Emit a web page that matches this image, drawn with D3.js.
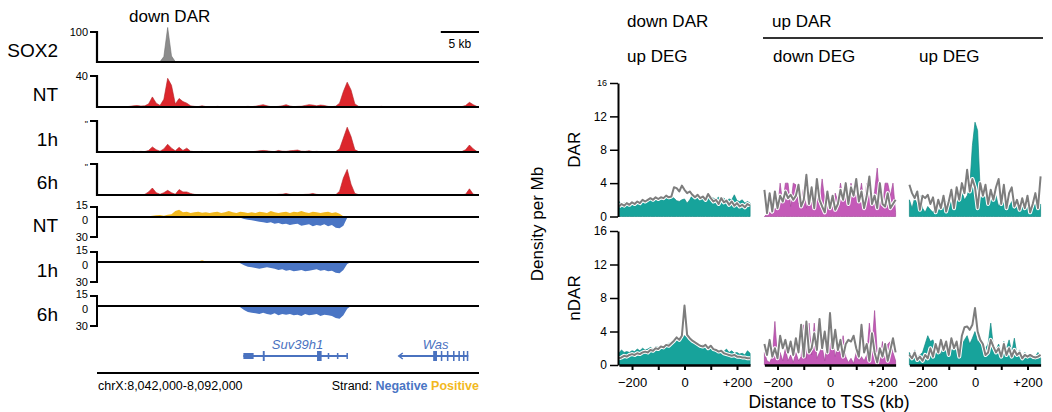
<!DOCTYPE html>
<html>
<head>
<meta charset="utf-8">
<script src="https://cdn.jsdelivr.net/npm/d3@7"></script>
<style>
  body { margin: 0; background: #fff; }
  svg { display: block; font-family: 'Liberation Sans', Arial, sans-serif; }
</style>
</head>
<body>
<div id="view"></div>
<script>
'use strict';

// ---- genome browser tracks: 100 bins of 0.5 kb over chrX:8,042,000-8,092,000
const sox2Signal = [
  0,0,0,0,0,0,0.5,0,0.5,0,
  0.5,1,0.5,0.5,1,0.5,1,18,115,20,
  1,1,1.5,1,0.5,1,0.5,0.5,0.5,0,
  0.5,0,0,0.5,0,0,0.5,0,0,0,
  0.5,0,0,0,0.5,0,0,0.5,0,0,
  0.5,0,0,0,0.5,0,0.5,0,0,0.5,
  0,0.5,0,1,1.5,2,1,0.5,0,0,
  0.5,0,0,0,0.5,0,0,0,0,0.5,
  0,0,0,0,0.5,0,0,0,0,0,
  0.5,0,0,0,0.5,0,0.5,0,0,0];
const ntSignal = [
  0.3,0.5,0.3,0.5,0.3,0.5,0.5,0.3,0.8,1.5,
  2,1.2,1.5,4,13,5,2,10,37,28,
  4,11,7,5,1.5,0.8,0.5,1.5,0.5,0.5,
  0.3,0.8,0.5,0.3,0.5,0.3,0.5,0.3,0.5,0.8,
  0.5,1,2,3,1.5,0.5,0.5,0.8,1.5,3,
  1.2,0.5,0.8,1,2,3,2.5,1.5,2.5,2,
  0.8,0.5,1,5,20,32,22,4,0.8,0.5,
  0.3,0.5,0.3,0.5,0.8,0.3,0.5,0.3,0.3,0.5,
  0.3,0.5,0.3,0.3,0.5,0.3,0.3,0.5,0.3,0.3,
  0.5,0.3,0.3,0.5,0.3,0.5,2,6,3,0.5];
const h1Signal = [
  0.3,0.3,0.5,0.3,0.3,0.5,0.3,0.3,0.5,0.8,
  0.5,0.8,0.5,2,6.5,3,1,4,10,5,
  1.5,6,2,5,1,0.5,0.5,0.8,0.3,0.5,
  0.3,0.5,0.3,0.5,0.3,0.5,0.3,0.5,0.3,0.5,
  0.5,0.8,1.5,2,1.5,0.8,0.5,2,1,0.8,
  1.5,2,2.5,1,0.8,1.5,0.5,0.8,0.5,0.3,
  0.5,0.3,0.5,4,18,32,20,3,0.5,0.3,
  0.3,0.5,0.3,0.3,0.5,0.3,0.3,0.5,0.3,0.3,
  0.5,0.3,0.3,0.5,0.3,0.3,0.5,0.3,0.3,0.5,
  0.3,0.3,0.5,0.3,0.3,0.5,3,9,4,0.5];
const h6Signal = [
  0.3,0.3,0.3,0.5,0.3,0.3,0.5,0.3,0.3,0.5,
  0.5,0.3,0.8,4,9,3,1,3,6,3,
  1,7,4,4,2,0.8,0.5,0.3,0.5,0.3,
  0.5,0.3,0.3,0.5,0.3,0.3,0.5,0.3,0.3,0.5,
  0.3,0.5,0.3,0.5,0.3,0.5,0.5,0.8,1,2,
  0.8,0.5,0.3,0.5,0.8,1,2,0.8,0.5,0.3,
  0.3,0.5,0.3,5,22,33,14,2,0.5,0.3,
  0.3,0.3,0.5,0.3,0.3,0.5,0.3,0.3,0.3,0.5,
  0.3,0.3,0.5,0.3,0.3,0.3,0.5,0.3,0.3,0.3,
  0.3,0.5,0.3,0.3,0.3,0.3,1,8,1,0.3];

// strand-specific RNA, positive strand up, negative strand (depth) down
const ntPlus = [
  0,0,0,0,0,0,0,0,0,0,
  0,0,0,1,2,2.5,3,2,3.5,4,
  9,11,7,8,6,7,8,6.5,7,6,
  7,8,6,7,9,7,6,8,7,6,
  7,6,8,7,6,9,7,6,7,8,
  6,8,7,9,7,6,8,7,6,7,
  8,6,7,5,1,0,0,0,0,0,
  0,0,0,0,0,0,0,0,0,0,
  0,0,0,0,0,0,0,0,0,0,
  0,0,0,0,0,0,0,0,0,0];
const ntMinus = [
  0,0,0,0,0,0,0,0,0,0,
  0,0,0,0,1.5,0,0,0,0,0,
  0,0,0,0,0,0,0,0,0,0,
  0,0,0,0,0,0,0,1,3,4,
  5,6,7,8,9,8,10,9,11,10,
  12,11,10,13,12,11,14,12,13,11,
  14,12,16,17,13,1,0,0,0,0,
  0,0,0,0,0,0,0,0,0,0,
  0,0,0,0,0,0,0,0,0,0,
  0,0,0,0,0,0,0,0,0,0];
const h1Plus = [
  0,0,0,0,0,0,0,0,0,0,
  0,0.5,0.5,0.5,0.8,0.5,0.5,0.8,0.5,0.5,
  0.8,0.5,0.5,0.8,0.5,0.5,0.8,2.5,0.8,0.5,
  0.5,0.8,0.5,0.5,0.8,0.5,0.5,0.8,0.5,0.5,
  0.8,0.5,0.5,0.8,0.5,0.5,1,0.5,0.5,0.8,
  0.5,0.5,1,0.5,0.5,0.8,0.5,0.5,0.8,0.5,
  0.5,0.8,0.5,0.5,0.5,0,0,0,0,0,
  0,0,0,0,0,0,0,0,0,0,
  0,0,0,0,0,0,0,0,0,0,
  0,0,0,0,0,0,0,0,0,0];
const h1Minus = [
  0,0,0,0,0,0,0,0,0,0,
  0,0,0,0,0,0,0,0,0,0,
  0,0,0,0,0,0,0,0,0,0,
  0,0,0,0,0,0,0,2,5,7,
  8,9,10,9,8,9,10,12,11,13,
  12,14,13,12,14,13,12,11,13,12,
  14,13,16,17,12,3,0,0,0,0,
  0,0,0,0,0,0,0,0,0,0,
  0,0,0,0,0,0,0,0,0,0,
  0,0,0,0,0,0,0,0,0,0];
const h6Plus = [
  0,0,0,0,0,0,0,0,0,0,
  0,0,0,0,0,0,0,0,0,0,
  0,0,0,0,0,0,0,0,0,0,
  0,0,0,0,0,0,0,0,0,0,
  0.5,0.8,0.5,0.5,0.8,0.5,1,0.5,0.8,0.5,
  0.5,0.8,0.5,1,0.5,0.5,0.8,0.5,0.5,0.8,
  0.5,0.5,0.5,0.5,0,0,0,0,0,0,
  0,0,0,0,0,0,0,0,0,0,
  0,0,0,0,0,0,0,0,0,0,
  0,0,0,0,0,0,0,0,0,0];
const h6Minus = [
  0,0,0,0,0,0,0,0,0,0,
  0,0,0,0,0,0,0,0,0,0,
  0,0,0,0,0,0,0,0,0,0,
  0,0,0,0,0,0,0,2,6,9,
  10,11,12,10,12,13,11,14,12,13,
  12,14,13,15,12,14,13,12,15,13,
  14,15,18,19,14,4,0,0,0,0,
  0,0,0,0,0,0,0,0,0,0,
  0,0,0,0,0,0,0,0,0,0,
  0,0,0,0,0,0,0,0,0,0];

// gene models, kb from region start: [start, end, kind]
const suv39h1Span = [19.16, 32.8];
const suv39h1Exons = [[19.16, 20.5, 'utr'], [21.7, 21.95, 'cds'], [28.8, 29.4, 'cds'],
  [30.2, 30.4, 'utr'], [31.4, 31.6, 'utr'], [32.65, 32.8, 'utr']];
const wasSpan = [39.5, 48.6];
const wasExons = [[44.0, 44.5, 'cds'], [45.0, 45.2, 'cds'], [45.8, 46.0, 'cds'],
  [46.6, 46.8, 'cds'], [47.3, 47.5, 'cds'], [47.9, 48.1, 'cds'], [48.4, 48.6, 'cds']];

// ---- TSS density profiles: 51 bins, -250..+250 kb
const tssDistance = d3.range(-250, 251, 10);
const xTicks = [-200, -100, 0, 100, 200];
const yTicks = [0, 4, 8, 12, 16];

const darDownUp = [1.8,1.5,1.6,1.7,1.6,1.8,1.7,1.9,1.8,2.0, 1.9,2.0,2.1,2.0,2.1,2.2,2.1,2.2,2.3,2.2,
  2.4,2.2,1.9,1.8,2.0,2.1,1.6,2.0,2.6,2.5, 2.4,2.3,2.5,2.3,2.2,2.4,2.2,2.1,2.3,2.0,
  2.2,1.9,2.1,2.0,2.6,1.9,1.8,2.0,1.6,1.8, 1.6];
const darDownUpCtrl = [1.2,1.5,1.3,1.6,1.4,1.7,1.5,1.8,1.6,2.0, 1.8,2.0,2.2,2.0,2.3,2.1,2.3,2.2,2.5,2.3,
  2.4,3.5,3.4,3.0,3.7,3.2,2.8,3.0,2.6,2.3, 2.6,2.2,2.4,2.0,2.7,2.2,1.8,2.0,1.5,2.2,
  1.7,1.9,1.4,1.8,1.3,1.6,1.2,1.4,1.1,1.5, 1.3];
const ndarDownUp = [1.4,1.8,1.5,1.6,1.5,1.7,1.6,1.9,1.7,2.0, 1.8,1.9,2.1,1.9,2.2,2.1,2.3,2.2,2.4,2.6,
  2.7,2.9,3.1,3.3,3.4,3.5,3.3,3.0,2.9,2.6, 2.4,2.3,2.4,2.1,2.2,1.9,2.0,1.9,1.7,1.8,
  1.6,1.9,1.5,1.7,1.4,1.5,1.3,1.4,1.2,1.7, 1.4];
const ndarDownUpCtrl = [0.8,0.9,1.1,1.0,1.2,1.3,1.2,1.4,1.3,1.5, 1.6,1.5,1.8,1.7,2.0,1.9,2.2,2.1,2.4,2.3,
  2.6,2.9,3.3,3.0,3.5,7.1,3.6,3.2,2.9,2.7, 2.5,2.3,2.2,2.4,2.0,2.3,1.9,1.8,1.6,1.7,
  1.4,1.3,1.2,1.1,1.2,1.0,1.0,0.9,0.9,0.8, 0.8];

const darUpDown = [0,0.3,0.5,0.2,1.0,0.8,4.0,1.5,4.0,4.0, 1.2,4.0,3.8,1.5,2.0,3.5,1.0,2.5,2.0,1.2,
  2.5,1.5,4.5,2.0,1.5,2.2,1.0,2.8,1.8,4.0, 2.0,3.5,1.2,4.0,2.5,3.5,2.0,4.0,1.5,4.0,
  2.5,1.0,3.0,5.8,2.0,1.2,4.0,4.0,2.5,4.0, 0.5];
const darUpDownCtrl = [3.2,0.4,2.8,0.6,3.0,1.0,2.5,1.8,3.0,2.2, 2.6,2.0,2.5,3.8,1.2,2.0,5.0,1.5,3.5,1.0,
  4.5,2.0,1.2,0.5,3.0,1.0,2.5,0.8,1.5,3.2, 2.0,4.0,1.5,3.5,2.5,4.5,1.8,3.0,1.0,2.5,
  4.8,1.5,2.5,1.0,4.0,1.5,1.2,2.8,1.0,1.5, 2.0];
const ndarUpDown = [1.5,0.5,0.3,1.0,5.2,0.8,1.5,0.5,2.0,0.5, 1.2,0.3,1.5,0.5,1.0,4.8,0.8,5.0,1.2,5.0,
  0.8,1.5,2.2,0.5,3.0,2.5,3.0,1.0,2.8,1.2, 3.5,1.0,0.3,0.8,0.2,1.5,0.5,1.0,0.5,1.2,
  5.0,2.0,6.5,1.5,0.5,2.8,1.0,2.5,2.8,1.5, 0.5];
const ndarUpDownCtrl = [2.5,1.2,3.0,1.0,2.0,0.8,3.5,2.0,3.0,1.5, 2.8,1.2,3.2,1.5,4.8,1.0,5.2,1.5,2.0,3.8,
  1.8,5.5,2.0,4.0,1.5,6.2,2.0,4.2,1.8,3.0, 1.0,2.5,3.0,2.8,3.5,2.0,1.0,4.8,1.5,2.5,
  0.5,3.8,1.5,0.3,2.0,1.0,2.5,0.5,1.8,3.2, 1.5];

const darUpUp = [2.0,1.0,2.2,1.5,2.5,1.0,0.5,1.2,0.8,0.5, 1.0,0.6,1.5,1.0,1.8,1.2,2.0,1.5,2.5,2.2,
  3.0,2.0,2.5,3.5,8.5,11.3,10.3,3.0,2.2,2.5, 1.5,2.8,2.0,2.5,1.2,2.2,1.5,2.0,1.2,1.8,
  0.8,1.5,1.0,2.0,0.8,1.5,0.6,1.2,1.5,1.0, 1.5];
const darUpUpCtrl = [3.8,2.8,2.2,3.0,0.8,2.5,2.2,2.6,1.5,2.3, 0.5,2.0,1.0,2.5,0.6,1.8,3.2,1.0,3.5,2.0,
  4.0,2.8,5.6,3.0,4.5,3.5,1.0,4.0,2.5,3.8, 1.5,3.2,2.0,3.5,4.5,1.5,3.8,1.0,2.8,3.5,
  1.2,2.0,0.8,2.2,1.0,2.5,0.5,1.5,2.8,1.0, 4.8];
const ndarUpUp = [1.5,0.8,1.8,1.0,1.2,1.5,2.5,3.5,2.8,3.0, 1.5,2.0,1.2,2.5,1.5,2.2,1.8,2.0,2.8,1.5,
  2.5,3.0,3.5,2.5,3.2,4.0,2.8,3.0,1.8,2.0, 2.5,5.0,2.2,1.8,2.5,1.5,2.8,2.0,3.0,1.5,
  3.2,1.2,1.8,1.0,1.5,0.8,1.2,0.6,1.0,1.5, 0.8];
const ndarUpUpCtrl = [1.2,0.8,1.5,0.6,1.0,0.5,1.2,0.8,2.0,1.0, 2.5,1.5,3.0,1.8,2.8,1.2,3.2,2.0,2.8,1.0,
  3.5,4.5,4.6,4.2,4.8,6.8,4.0,3.0,2.5,1.2, 1.5,3.0,2.2,1.5,2.0,1.0,2.5,1.2,2.0,1.0,
  1.8,1.2,1.5,0.8,1.2,1.0,1.2,1.0,0.9,1.0, 1.2];

const presentation = {
  red: '#dc262c', grey: '#8c8c8c', yellow: '#f2b91e', blue: '#4a75c4',
  gene: '#4a72bf', teal: '#17a39b', magenta: '#c45ab8', ctrl: '#7d7d7d'
};

const svg = d3.select('#view').append('svg')
  .attr('width', 1052)
  .attr('height', 412);

// ================= left: browser view =================
const kb = d3.scaleLinear().domain([0, 50]).range([97, 479]);
const binKb = i => i * 0.5 + 0.25;
const gLeft = svg.append('g');

gLeft.append('text').attr('x', 129).attr('y', 22)
  .attr('font-size', 17).text('down DAR');

// scale bar
gLeft.append('line').attr('x1', kb(45)).attr('x2', kb(50)).attr('y1', 32).attr('y2', 32)
  .attr('stroke', '#000').attr('stroke-width', 2);
gLeft.append('text').attr('x', kb(47.5)).attr('y', 48).attr('text-anchor', 'middle')
  .attr('font-size', 12).text('5 kb');

const signalTracks = [
  { label: 'SOX2', values: sox2Signal, max: 100, tick: '100', top: 32, base: 62, fill: presentation.grey },
  { label: 'NT', values: ntSignal, max: 40, tick: '40', top: 76, base: 107, fill: presentation.red },
  { label: '1h', values: h1Signal, max: 40, tick: '"', top: 121, base: 152, fill: presentation.red },
  { label: '6h', values: h6Signal, max: 40, tick: '"', top: 164, base: 195, fill: presentation.red }
];

signalTracks.forEach(t => {
  const y = d3.scaleLinear().domain([0, t.max]).range([t.base, t.top]);
  const area = d3.area().x((d, i) => kb(binKb(i))).y0(t.base).y1(d => y(d));
  gLeft.append('path').attr('d', area(t.values))
    .attr('fill', t.fill).attr('stroke', d3.color(t.fill).darker(0.6)).attr('stroke-width', 0.6);
  gLeft.append('path')
    .attr('d', `M${kb(0) - 7},${t.top}H${kb(0)}V${t.base}H${kb(50)}`)
    .attr('fill', 'none').attr('stroke', '#000').attr('stroke-width', 2.2);
  gLeft.append('text').attr('x', 88).attr('y', t.top).attr('dy', t.tick === '"' ? '0.7em' : '0.35em')
    .attr('text-anchor', 'end').attr('font-size', t.tick === '"' ? 9 : 11).text(t.tick);
  gLeft.append('text').attr('x', 58).attr('y', (t.top + t.base) / 2 + 3).attr('dy', '0.35em')
    .attr('text-anchor', 'end').attr('font-size', 19).text(t.label);
});

const strandTracks = [
  { label: 'NT', plus: ntPlus, minus: ntMinus, zero: 217 },
  { label: '1h', plus: h1Plus, minus: h1Minus, zero: 262 },
  { label: '6h', plus: h6Plus, minus: h6Minus, zero: 306 }
];

strandTracks.forEach(t => {
  const y = d3.scaleLinear().domain([-30, 15]).range([t.zero + 20, t.zero - 10]);
  const up = d3.area().x((d, i) => kb(binKb(i))).y0(y(0)).y1(d => y(d));
  const down = d3.area().x((d, i) => kb(binKb(i))).y0(y(0)).y1(d => y(-d));
  gLeft.append('path').attr('d', up(t.plus)).attr('fill', presentation.yellow);
  gLeft.append('path').attr('d', down(t.minus)).attr('fill', presentation.blue);
  gLeft.append('path')
    .attr('d', `M${kb(0) - 7},${y(15)}H${kb(0)}V${y(-30)}H${kb(0) - 7}`)
    .attr('fill', 'none').attr('stroke', '#000').attr('stroke-width', 2);
  gLeft.append('line').attr('x1', kb(0)).attr('x2', kb(50)).attr('y1', y(0)).attr('y2', y(0))
    .attr('stroke', '#000').attr('stroke-width', 2.2);
  // "15" and "0" sit close together, as in the source figure
  [[15, '15', -1.5], [0, '0', 3], [-30, '30', 0]].forEach(([v, s, shift]) => {
    gLeft.append('text').attr('x', 88).attr('y', y(v) + shift).attr('dy', '0.35em')
      .attr('text-anchor', 'end').attr('font-size', 11).text(s);
  });
  gLeft.append('text').attr('x', 58).attr('y', t.zero + 8).attr('dy', '0.35em')
    .attr('text-anchor', 'end').attr('font-size', 19).text(t.label);
});

// gene models
function drawGene(span, exons, name, arrowLeft) {
  const yG = 356;
  gLeft.append('line').attr('x1', kb(span[0])).attr('x2', kb(span[1]))
    .attr('y1', yG).attr('y2', yG).attr('stroke', presentation.gene).attr('stroke-width', 1.8);
  gLeft.selectAll(null).data(exons).enter().append('rect')
    .attr('x', d => kb(d[0]))
    .attr('width', d => Math.max(1.5, kb(d[1]) - kb(d[0])))
    .attr('y', d => yG - (d[2] === 'cds' ? 5 : 3))
    .attr('height', d => d[2] === 'cds' ? 10 : 6)
    .attr('fill', presentation.gene);
  if (arrowLeft) {
    const x0 = kb(span[0]);
    gLeft.append('path').attr('d', `M${x0 + 4},${yG - 3}L${x0},${yG}L${x0 + 4},${yG + 3}`)
      .attr('fill', 'none').attr('stroke', presentation.gene).attr('stroke-width', 1.5);
  }
  gLeft.append('text').attr('x', kb((span[0] + span[1]) / 2) + 2).attr('y', 349)
    .attr('text-anchor', 'middle').attr('font-size', 13).attr('font-style', 'italic')
    .attr('fill', presentation.gene).text(name);
}
drawGene(suv39h1Span, suv39h1Exons, 'Suv39h1', false);
drawGene(wasSpan, wasExons, 'Was', true);

gLeft.append('line').attr('x1', kb(0)).attr('x2', kb(50)).attr('y1', 373).attr('y2', 373)
  .attr('stroke', '#000').attr('stroke-width', 2);
gLeft.append('text').attr('x', 98).attr('y', 390).attr('font-size', 12.5)
  .text('chrX:8,042,000-8,092,000');
const strandText = gLeft.append('text').attr('x', 479).attr('y', 390)
  .attr('text-anchor', 'end').attr('font-size', 12.5);
strandText.append('tspan').text('Strand: ');
strandText.append('tspan').attr('fill', presentation.blue).attr('font-weight', 'bold').text('Negative ');
strandText.append('tspan').attr('fill', presentation.yellow).attr('font-weight', 'bold').text('Positive');

// ================= right: density around TSS =================
const gRight = svg.append('g');

const panels = [
  { center: 684.5, color: presentation.teal, dar: darDownUp, darCtrl: darDownUpCtrl, ndar: ndarDownUp, ndarCtrl: ndarDownUpCtrl },
  { center: 830, color: presentation.magenta, dar: darUpDown, darCtrl: darUpDownCtrl, ndar: ndarUpDown, ndarCtrl: ndarUpDownCtrl },
  { center: 975, color: presentation.teal, dar: darUpUp, darCtrl: darUpUpCtrl, ndar: ndarUpUp, ndarCtrl: ndarUpUpCtrl }
];
const rows = [
  { key: 'dar', label: 'DAR', top: 83, base: 216.5 },
  { key: 'ndar', label: 'nDAR', top: 231, base: 365 }
];
const halfWidth = 65.6;

rows.forEach((row, ri) => {
  const y = d3.scaleLinear().domain([0, 16]).range([row.base, row.top]);

  panels.forEach(p => {
    const x = d3.scaleLinear().domain([-250, 250]).range([p.center - halfWidth, p.center + halfWidth]);
    const area = d3.area().x((d, i) => x(tssDistance[i])).y0(row.base).y1(d => y(d));
    const line = d3.line().x((d, i) => x(tssDistance[i])).y(d => y(d));
    gRight.append('path').attr('d', area(p[row.key]))
      .attr('fill', p.color).attr('stroke', d3.color(p.color).darker(0.5)).attr('stroke-width', 0.7);
    gRight.append('path').attr('d', line(p[row.key + 'Ctrl']))
      .attr('fill', 'none').attr('stroke', '#fff').attr('stroke-width', 4).attr('stroke-linejoin', 'round');
    gRight.append('path').attr('d', line(p[row.key + 'Ctrl']))
      .attr('fill', 'none').attr('stroke', presentation.ctrl).attr('stroke-width', 2).attr('stroke-linejoin', 'round');

    if (ri === 1) {
      const xAxis = gRight.append('g').attr('transform', `translate(0,${row.base})`)
        .call(d3.axisBottom(x).tickValues(xTicks).tickSize(5).tickSizeOuter(0)
          .tickFormat(d => d === -200 ? '−200' : d === 0 ? '0' : d === 200 ? '+200' : ''));
      xAxis.select('.domain').attr('stroke-width', 2.5);
      xAxis.selectAll('.tick line').attr('stroke-width', 2);
      xAxis.selectAll('text').attr('font-size', 13).attr('font-family', null).attr('dy', '1.05em');
    }
  });

  const yAxis = gRight.append('g').attr('transform', 'translate(618,0)')
    .call(d3.axisLeft(y).tickValues(yTicks).tickSize(8).tickSizeOuter(0));
  yAxis.select('.domain').attr('stroke-width', 2);
  yAxis.selectAll('.tick line').attr('stroke-width', 1.5);
  yAxis.selectAll('text').attr('font-size', d => (ri === 0 && d === 16) ? 9 : 12).attr('font-family', null);

  gRight.append('text')
    .attr('transform', `translate(580,${(row.top + row.base) / 2}) rotate(-90)`)
    .attr('text-anchor', 'middle').attr('font-size', 17).text(row.label);
});

gRight.append('text').attr('transform', 'translate(543,224) rotate(-90)')
  .attr('text-anchor', 'middle').attr('font-size', 17).text('Density per Mb');
gRight.append('text').attr('x', 829).attr('y', 408)
  .attr('text-anchor', 'middle').attr('font-size', 17.5).text('Distance to TSS (kb)');

// column headers
gRight.append('text').attr('x', 627).attr('y', 27).attr('font-size', 17).text('down DAR');
gRight.append('text').attr('x', 772).attr('y', 27).attr('font-size', 17).text('up DAR');
gRight.append('line').attr('x1', 763).attr('x2', 1043).attr('y1', 38).attr('y2', 38)
  .attr('stroke', '#333').attr('stroke-width', 2);
gRight.append('text').attr('x', 627).attr('y', 62).attr('font-size', 17).text('up DEG');
gRight.append('text').attr('x', 773).attr('y', 62).attr('font-size', 17).text('down DEG');
gRight.append('text').attr('x', 919).attr('y', 62).attr('font-size', 17).text('up DEG');
</script>
</body>
</html>
